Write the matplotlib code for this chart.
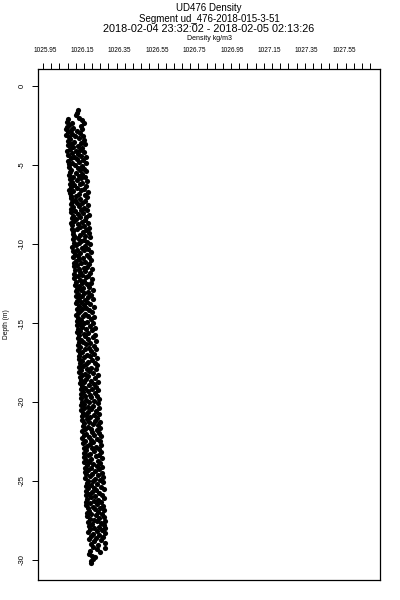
#!/usr/bin/env python3
"""
Glider density profile plot
===========================

Scatter of in-situ density vs depth for one glider segment,
density axis drawn on top (R-style box plot).
"""

import numpy as np
import matplotlib
matplotlib.use('Agg')
import matplotlib.pyplot as plt

plt.rcParams['font.family'] = ['Liberation Sans', 'DejaVu Sans']

GLIDER = 'UD476'
SEGMENT = 'ud_476-2018-015-3-51'
TIME_RANGE = '2018-02-04 23:32:02 - 2018-02-05 02:13:26'

# axis annotations
density_labels = [1025.95, 1026.15, 1026.35, 1026.55, 1026.75,
                  1026.95, 1027.15, 1027.35, 1027.55]
depth_ticks = [0, -5, -10, -15, -20, -25, -30]

# samples: depth (m) and density above DENSITY_BASE (kg/m3)
DENSITY_BASE = 1026.0

depth_m = [
    -1.52, -1.68, -1.85, -2.02, -2.10, -2.18, -2.25, -2.31, -2.36, -2.44, -2.52, -2.58,
    -2.63, -2.70, -2.74, -2.81, -2.86, -2.92, -2.97, -3.03, -3.08, -3.14, -3.19, -3.25,
    -3.31, -3.36, -3.42, -3.47, -3.53, -3.58, -3.64, -3.69, -3.75, -3.80, -3.86, -3.91,
    -3.97, -4.02, -4.08, -4.13, -4.19, -4.24, -4.30, -4.35, -4.41, -4.46, -4.52, -4.57,
    -4.63, -4.68, -4.74, -4.79, -4.85, -4.90, -4.96, -5.01, -5.07, -5.12, -5.18, -5.23,
    -5.29, -5.34, -5.40, -5.45, -5.51, -5.56, -5.62, -5.67, -5.73, -5.78, -5.84, -5.89,
    -5.95, -6.00, -6.06, -6.11, -6.17, -6.22, -6.28, -6.33, -6.39, -6.44, -6.50, -6.55,
    -6.61, -6.66, -6.72, -6.77, -6.83, -6.88, -6.94, -6.99, -7.05, -7.10, -7.16, -7.21,
    -7.27, -7.32, -7.38, -7.43, -7.49, -7.54, -7.60, -7.65, -7.71, -7.76, -7.82, -7.87,
    -7.93, -7.98, -8.04, -8.09, -8.15, -8.20, -8.26, -8.31, -8.37, -8.42, -8.48, -8.53,
    -8.59, -8.64, -8.70, -8.75, -8.81, -8.86, -8.92, -8.97, -9.03, -9.08, -9.14, -9.19,
    -9.25, -9.30, -9.36, -9.41, -9.47, -9.52, -9.58, -9.63, -9.69, -9.74, -9.80, -9.85,
    -9.91, -9.96, -10.02, -10.07, -10.13, -10.18, -10.24, -10.29, -10.35, -10.40, -10.46, -10.51,
    -10.57, -10.62, -10.68, -10.73, -10.79, -10.84, -10.90, -10.95, -11.01, -11.06, -11.12, -11.17,
    -11.23, -11.28, -11.34, -11.39, -11.45, -11.50, -11.56, -11.61, -11.67, -11.72, -11.78, -11.83,
    -11.89, -11.94, -12.00, -12.05, -12.11, -12.16, -12.22, -12.27, -12.33, -12.38, -12.44, -12.49,
    -12.55, -12.60, -12.66, -12.71, -12.77, -12.82, -12.88, -12.93, -12.99, -13.04, -13.10, -13.15,
    -13.21, -13.26, -13.32, -13.37, -13.43, -13.48, -13.54, -13.59, -13.65, -13.70, -13.76, -13.81,
    -13.87, -13.92, -13.98, -14.03, -14.09, -14.14, -14.20, -14.25, -14.31, -14.36, -14.42, -14.47,
    -14.53, -14.58, -14.64, -14.69, -14.75, -14.80, -14.86, -14.91, -14.97, -15.02, -15.08, -15.13,
    -15.19, -15.24, -15.30, -15.35, -15.41, -15.46, -15.52, -15.57, -15.63, -15.68, -15.74, -15.79,
    -15.85, -15.90, -15.96, -16.01, -16.07, -16.12, -16.18, -16.23, -16.29, -16.34, -16.40, -16.45,
    -16.51, -16.56, -16.62, -16.67, -16.73, -16.78, -16.84, -16.89, -16.95, -17.00, -17.06, -17.11,
    -17.17, -17.22, -17.28, -17.33, -17.39, -17.44, -17.50, -17.55, -17.61, -17.66, -17.72, -17.77,
    -17.83, -17.88, -17.94, -17.99, -18.05, -18.10, -18.16, -18.21, -18.27, -18.32, -18.38, -18.43,
    -18.49, -18.54, -18.60, -18.65, -18.71, -18.76, -18.82, -18.87, -18.93, -18.98, -19.04, -19.09,
    -19.15, -19.20, -19.26, -19.31, -19.37, -19.42, -19.48, -19.53, -19.59, -19.64, -19.70, -19.75,
    -19.81, -19.86, -19.92, -19.97, -20.03, -20.08, -20.14, -20.19, -20.25, -20.30, -20.36, -20.41,
    -20.47, -20.52, -20.58, -20.63, -20.69, -20.74, -20.80, -20.85, -20.91, -20.96, -21.02, -21.07,
    -21.13, -21.18, -21.24, -21.29, -21.35, -21.40, -21.46, -21.51, -21.57, -21.62, -21.68, -21.73,
    -21.79, -21.84, -21.90, -21.95, -22.01, -22.06, -22.12, -22.17, -22.23, -22.28, -22.34, -22.39,
    -22.45, -22.50, -22.56, -22.61, -22.67, -22.72, -22.78, -22.83, -22.89, -22.94, -23.00, -23.05,
    -23.11, -23.16, -23.22, -23.27, -23.33, -23.38, -23.44, -23.49, -23.55, -23.60, -23.66, -23.71,
    -23.77, -23.82, -23.88, -23.93, -23.99, -24.04, -24.10, -24.15, -24.21, -24.26, -24.32, -24.37,
    -24.43, -24.48, -24.54, -24.59, -24.65, -24.70, -24.76, -24.81, -24.87, -24.92, -24.98, -25.03,
    -25.09, -25.14, -25.20, -25.25, -25.31, -25.36, -25.42, -25.47, -25.53, -25.58, -25.64, -25.69,
    -25.75, -25.80, -25.86, -25.91, -25.97, -26.02, -26.08, -26.13, -26.19, -26.24, -26.30, -26.35,
    -26.41, -26.46, -26.52, -26.57, -26.63, -26.68, -26.74, -26.79, -26.85, -26.90, -26.96, -27.01,
    -27.07, -27.12, -27.18, -27.23, -27.29, -27.34, -27.40, -27.45, -27.51, -27.56, -27.62, -27.67,
    -27.73, -27.78, -27.84, -27.89, -27.95, -28.00, -28.06, -28.11, -28.17, -28.22, -28.28, -28.33,
    -28.39, -28.46, -28.53, -28.60, -28.68, -28.75, -28.83, -28.90, -28.98, -29.06, -29.15, -29.24,
    -29.33, -29.42, -29.52, -29.62, -29.73, -29.84, -29.96, -30.08, -30.18,
]

density_anom = [
    0.126, 0.121, 0.117, 0.131, 0.072, 0.150, 0.066, 0.094, 0.158, 0.081, 0.141, 0.070,
    0.102, 0.064, 0.146, 0.088, 0.120, 0.071, 0.135, 0.097, 0.065, 0.112, 0.152, 0.078,
    0.132, 0.084, 0.158, 0.071, 0.108, 0.143, 0.090, 0.166, 0.074, 0.125, 0.101, 0.149,
    0.082, 0.137, 0.069, 0.115, 0.161, 0.093, 0.128, 0.076, 0.145, 0.104, 0.170, 0.087,
    0.119, 0.155, 0.073, 0.134, 0.096, 0.168, 0.081, 0.112, 0.147, 0.078, 0.127, 0.160,
    0.091, 0.139, 0.172, 0.084, 0.117, 0.151, 0.079, 0.130, 0.163, 0.098, 0.142, 0.086,
    0.121, 0.176, 0.093, 0.148, 0.082, 0.135, 0.106, 0.169, 0.088, 0.124, 0.157, 0.080,
    0.143, 0.099, 0.180, 0.085, 0.131, 0.162, 0.092, 0.118, 0.174, 0.087, 0.138, 0.109,
    0.167, 0.094, 0.151, 0.121, 0.089, 0.183, 0.133, 0.101, 0.160, 0.092, 0.144, 0.176,
    0.112, 0.090, 0.155, 0.129, 0.186, 0.098, 0.140, 0.171, 0.093, 0.117, 0.163, 0.104,
    0.148, 0.091, 0.179, 0.126, 0.097, 0.158, 0.136, 0.188, 0.095, 0.122, 0.169, 0.102,
    0.152, 0.184, 0.099, 0.137, 0.166, 0.108, 0.193, 0.125, 0.098, 0.159, 0.141, 0.176,
    0.103, 0.131, 0.190, 0.114, 0.162, 0.097, 0.147, 0.181, 0.120, 0.157, 0.100, 0.196,
    0.138, 0.110, 0.173, 0.128, 0.186, 0.101, 0.154, 0.133, 0.199, 0.116, 0.167, 0.104,
    0.145, 0.188, 0.121, 0.106, 0.177, 0.158, 0.132, 0.201, 0.112, 0.164, 0.140, 0.192,
    0.108, 0.151, 0.183, 0.126, 0.169, 0.107, 0.204, 0.137, 0.159, 0.118, 0.195, 0.146,
    0.173, 0.110, 0.131, 0.187, 0.155, 0.123, 0.207, 0.142, 0.115, 0.179, 0.161, 0.128,
    0.197, 0.118, 0.150, 0.183, 0.134, 0.208, 0.164, 0.121, 0.176, 0.145, 0.116, 0.191,
    0.158, 0.130, 0.212, 0.171, 0.119, 0.148, 0.186, 0.139, 0.203, 0.125, 0.167, 0.117,
    0.180, 0.153, 0.214, 0.129, 0.196, 0.143, 0.122, 0.175, 0.160, 0.207, 0.135, 0.120,
    0.189, 0.148, 0.216, 0.127, 0.170, 0.201, 0.138, 0.124, 0.182, 0.157, 0.219, 0.132,
    0.166, 0.205, 0.126, 0.179, 0.145, 0.222, 0.154, 0.131, 0.193, 0.171, 0.128, 0.210,
    0.140, 0.185, 0.162, 0.224, 0.129, 0.198, 0.151, 0.135, 0.213, 0.176, 0.130, 0.190,
    0.160, 0.227, 0.134, 0.203, 0.148, 0.181, 0.216, 0.139, 0.170, 0.230, 0.155, 0.133,
    0.195, 0.176, 0.221, 0.144, 0.187, 0.132, 0.208, 0.164, 0.232, 0.150, 0.183, 0.137,
    0.219, 0.172, 0.141, 0.199, 0.233, 0.158, 0.136, 0.211, 0.185, 0.147, 0.225, 0.167,
    0.143, 0.204, 0.236, 0.179, 0.152, 0.218, 0.141, 0.190, 0.229, 0.163, 0.198, 0.145,
    0.240, 0.171, 0.212, 0.149, 0.186, 0.233, 0.157, 0.142, 0.207, 0.178, 0.238, 0.161,
    0.196, 0.144, 0.225, 0.183, 0.153, 0.241, 0.169, 0.210, 0.146, 0.191, 0.231, 0.174,
    0.150, 0.219, 0.244, 0.187, 0.160, 0.206, 0.236, 0.152, 0.179, 0.247, 0.195, 0.165,
    0.226, 0.149, 0.203, 0.240, 0.172, 0.157, 0.215, 0.250, 0.184, 0.151, 0.231, 0.198,
    0.166, 0.243, 0.209, 0.155, 0.189, 0.249, 0.175, 0.222, 0.158, 0.201, 0.237, 0.168,
    0.214, 0.252, 0.160, 0.193, 0.238, 0.178, 0.221, 0.158, 0.256, 0.199, 0.170, 0.233,
    0.186, 0.161, 0.246, 0.208, 0.175, 0.228, 0.257, 0.163, 0.194, 0.240, 0.182, 0.216,
    0.164, 0.253, 0.203, 0.172, 0.235, 0.190, 0.259, 0.167, 0.220, 0.245, 0.181, 0.207,
    0.262, 0.174, 0.231, 0.196, 0.168, 0.249, 0.212, 0.183, 0.266, 0.225, 0.170, 0.204,
    0.241, 0.187, 0.258, 0.169, 0.218, 0.199, 0.265, 0.176, 0.234, 0.210, 0.172, 0.251,
    0.193, 0.228, 0.171, 0.263, 0.206, 0.180, 0.244, 0.217, 0.267, 0.185, 0.232, 0.175,
    0.255, 0.198, 0.221, 0.177, 0.268, 0.240, 0.189, 0.211, 0.272, 0.226, 0.180, 0.249,
    0.203, 0.265, 0.186, 0.237, 0.274, 0.215, 0.192, 0.258, 0.229, 0.183, 0.270, 0.207,
    0.241, 0.196, 0.262, 0.222, 0.187, 0.251, 0.210, 0.271, 0.199, 0.234, 0.205, 0.270,
    0.226, 0.191, 0.244, 0.187, 0.200, 0.218, 0.207, 0.199, 0.196,
]


def plot_density_profile(output_path='out.png'):
    """Density vs depth scatter with the density axis on top."""
    depth = np.array(depth_m)
    density = DENSITY_BASE + np.array(density_anom)

    fig = plt.figure(figsize=(4, 6), dpi=100)
    ax = fig.add_axes([0.0955, 0.0333, 0.8545, 0.8517])

    ax.scatter(density, depth, s=14, c='black', linewidths=0)

    ax.set_xlim(1025.914, 1027.743)
    ax.set_ylim(-31.27, 1.08)

    # density axis on top: labels every 0.2, tick marks on a finer grid
    ax.xaxis.tick_top()
    ax.set_xticks(density_labels)
    ax.set_xticklabels([f'{v:.2f}' for v in density_labels], fontsize=4.7)
    ax.set_xticks(np.linspace(1025.94, 1027.69, 41), minor=True)
    ax.tick_params(axis='x', which='major', length=0, pad=10.8)
    ax.tick_params(axis='x', which='minor', length=4, width=0.7, direction='out')

    ax.set_yticks(depth_ticks)
    ax.set_yticklabels([str(v) for v in depth_ticks], fontsize=5.5, rotation=90, va='center')
    ax.tick_params(axis='y', length=4, width=0.7, direction='out', pad=5)

    for spine in ax.spines.values():
        spine.set_linewidth(0.9)

    xc = 0.5 * (0.0955 + 0.95)
    fig.text(7 / 400, 0.5 * (0.0333 + 0.885), 'Depth (m)', rotation=90,
             ha='center', va='center', fontsize=4.8)
    fig.text(xc, 1 - 8 / 600, f'{GLIDER} Density', ha='center', va='center', fontsize=7)
    fig.text(xc, 1 - 19 / 600, f'Segment {SEGMENT}', ha='center', va='center', fontsize=7)
    fig.text(xc, 1 - 29.5 / 600, TIME_RANGE, ha='center', va='center', fontsize=7.8)
    fig.text(xc, 1 - 38.5 / 600, 'Density kg/m3', ha='center', va='center', fontsize=5)

    fig.savefig(output_path, dpi=100)
    plt.close(fig)


if __name__ == '__main__':
    plot_density_profile()
